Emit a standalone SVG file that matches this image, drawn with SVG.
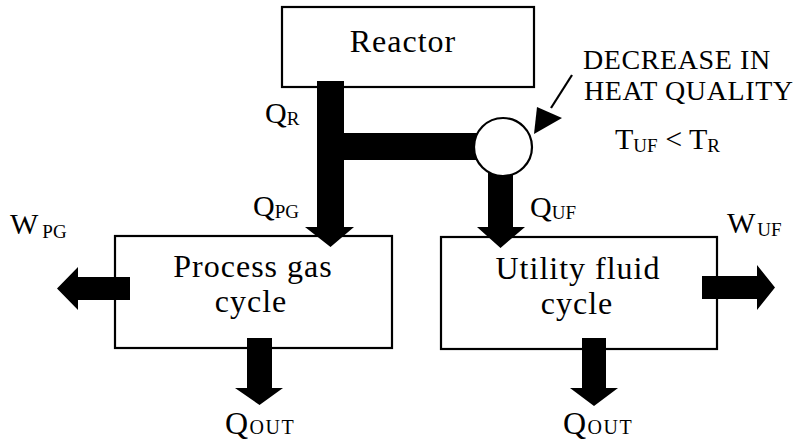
<svg xmlns="http://www.w3.org/2000/svg" width="805" height="441" viewBox="0 0 805 441">
<style>
  text { font-family: "Liberation Serif", "Times New Roman", serif; fill: #000; }
  .box { fill: #fff; stroke: #000; stroke-width: 2.2; }
  .big { font-size: 32px; letter-spacing: 1px; }
  .lbl { font-size: 30px; }
  .sub { font-size: 19px; }
  .note { font-size: 28px; letter-spacing: 0.6px; }
  .arr { fill: #000; stroke: none; }
</style>
<rect width="805" height="441" fill="#fff"/>

<g id="reactor">
  <rect class="box" x="282" y="7" width="252" height="80"/>
  <text class="big" x="403" y="52" text-anchor="middle">Reactor</text>
</g>
<g id="process-gas-cycle">
  <rect class="box" x="115" y="236" width="277" height="112"/>
  <text class="big" x="253" y="277" text-anchor="middle">Process gas</text>
  <text class="big" x="251" y="312" text-anchor="middle">cycle</text>
</g>
<g id="utility-fluid-cycle">
  <rect class="box" x="441" y="237" width="276" height="112"/>
  <text class="big" x="578" y="279" text-anchor="middle">Utility fluid</text>
  <text class="big" x="577" y="314" text-anchor="middle">cycle</text>
</g>

<g id="connectors">
  <polygon class="arr" points="317,81 344,81 344,227 354,227 330.5,247 305,227 317,227"/>
  <rect class="arr" x="344" y="133" width="140" height="27"/>
  <polygon class="arr" points="488,160 513,160 513,227 525,227 500.5,248 477,227 488,227"/>
  <polygon class="arr" points="247,338 272,338 272,388 283,388 259.5,405 235,388 247,388"/>
  <polygon class="arr" points="582,338 606,338 606,388 618,388 594,406 570,388 582,388"/>
  <polygon class="arr" points="130,277 130,300 78,300 78,310 57,288.5 78,267 78,277"/>
  <polygon class="arr" points="702,276 757,276 757,265 775,287.5 757,310 757,299 702,299"/>
  <line x1="572" y1="75" x2="551" y2="108" stroke="#000" stroke-width="2.2"/>
  <polygon class="arr" points="537,107 562,118 534,134"/>
</g>

<g id="mixer">
  <circle cx="503" cy="147" r="29" fill="#fff" stroke="#000" stroke-width="2.2"/>
</g>

<g id="labels">
  <text class="lbl" x="265" y="123">Q<tspan class="sub" dy="2">R</tspan></text>
  <text class="lbl" x="253" y="216">Q<tspan class="sub" dy="2">PG</tspan></text>
  <text class="lbl" x="10" y="234">W<tspan class="sub" dx="4" dy="4">PG</tspan></text>
  <text class="lbl" x="530" y="217">Q<tspan class="sub" dy="2">UF</tspan></text>
  <text class="lbl" x="727" y="233">W<tspan class="sub" dx="2" dy="3">UF</tspan></text>
  <text class="lbl" x="615" y="149">T<tspan class="sub" dy="3">UF</tspan><tspan dy="-3"> &lt; T</tspan><tspan class="sub" dy="3">R</tspan></text>
  <text class="note" x="583" y="69">DECREASE IN</text>
  <text class="note" x="584" y="100">HEAT QUALITY</text>
  <text x="260" y="434" text-anchor="middle" letter-spacing="1.5" font-size="32">Q<tspan font-size="20">OUT</tspan></text>
  <text x="598" y="434" text-anchor="middle" letter-spacing="1.5" font-size="32">Q<tspan font-size="20">OUT</tspan></text>
</g>
</svg>
